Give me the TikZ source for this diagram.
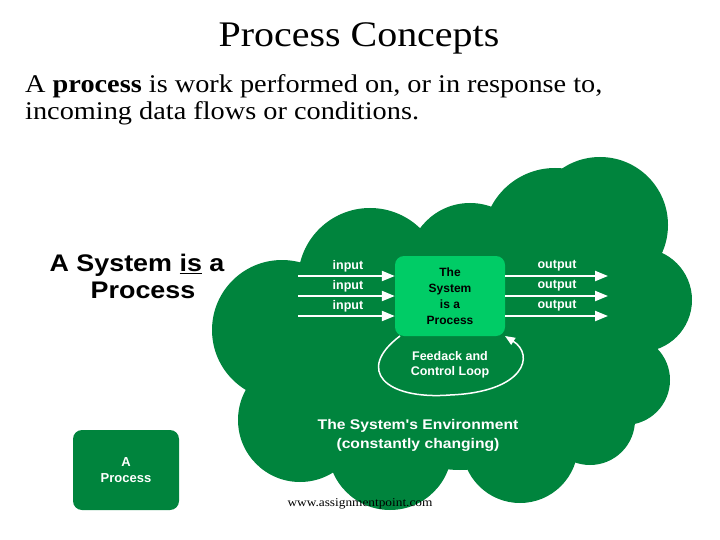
\documentclass[tikz,border=0pt]{standalone}
\usepackage{fontspec}
\setmainfont{Liberation Serif}[FakeStretch=1.11]
\newfontfamily\arial{Liberation Sans}
\newfontfamily\arialw{Liberation Sans}[FakeStretch=1.12]
\usetikzlibrary{arrows.meta}
\begin{document}
\begin{tikzpicture}[x=1pt,y=-1pt,
  lbl/.style={text=white,font=\arial\bfseries\fontsize{12.5}{15}\selectfont},
  arr/.style={white,line width=2.2pt,-{Triangle[length=13pt,width=10pt]}}]
\definecolor{cgreen}{HTML}{00843D}
\definecolor{lgreen}{HTML}{00CC66}
\useasboundingbox (0,0) rectangle (720,540);
\node[font=\fontsize{36}{40}\selectfont] (title) at (359,38) {Process Concepts};
\node[anchor=north west,align=left,inner sep=0,font=\fontsize{25.5}{27}\selectfont] (def) at (25,74) {A \textbf{process} is work performed on, or in response to,\\ incoming data flows or conditions.};
\node[align=center,font=\arialw\bfseries\fontsize{24}{27}\selectfont] (sys) at (137,276) {A System \underline{is} a\\ \hspace*{0.5em}Process};
% cloud
\foreach \x/\y/\r in {600/225/68, 370/280/72, 470/265/62, 555/240/72, 640/300/52, 625/380/45, 282/330/70, 300/420/62, 390/448/62, 520/445/58, 590/420/45, 460/360/110, 420/330/100, 540/340/90, 350/385/80, 580/300/70}
  \fill[cgreen] (\x,\y) circle (\r);
\node[fill=lgreen,rounded corners=9pt,minimum width=110pt,minimum height=80pt,align=center,font=\arial\bfseries\fontsize{12}{16}\selectfont] (box) at (450,296) {The\\System\\is a\\Process};
\foreach \yy/\i in {276/1,296/2,316/3}{
  \coordinate (in\i) at (298,\yy);
  \coordinate (out\i) at (608,\yy);
  \draw[arr] (in\i) -- (box.west |- in\i);
  \draw[arr] (box.east |- out\i) -- (out\i);
  \node[lbl] at (348,\yy-10) {input};
  \node[lbl] at (557,\yy-10) {output};
}
\node[lbl,align=center] (fbt) at (450,365) {Feedack and\\Control Loop};
\coordinate (fbs) at (400,336);
\coordinate (fbe) at (505,336);
\draw[white,line width=1.5pt,-{Triangle[length=10pt,width=8pt]}] (fbs) .. controls (355,370) and (385,400) .. (450,395) .. controls (525,392) and (535,355) .. (fbe);
\node[lbl,align=center,font=\arialw\bfseries\fontsize{14}{19}\selectfont] (env) at (418,435) {The System's Environment\\(constantly changing)};
\node[fill=cgreen,rounded corners=9pt,minimum width=106pt,minimum height=80pt,align=center,text=white,font=\arial\bfseries\fontsize{13}{16}\selectfont] (ap) at (126,470) {A\\Process};
\node[font=\fontsize{12}{14}\selectfont] (url) at (360,504) {www.assignmentpoint.com};
\end{tikzpicture}
\end{document}
